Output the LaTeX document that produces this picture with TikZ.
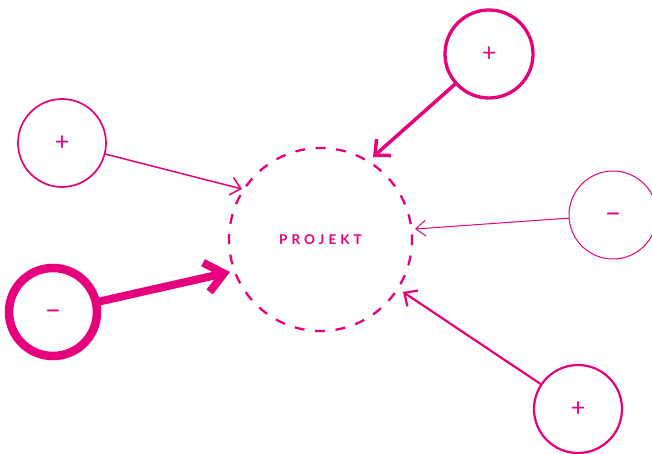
\documentclass[tikz,border=0pt]{standalone}
\usepackage{fontspec}
\setmainfont{Lato}
\newfontfamily\projfont[LetterSpace=30]{Lato Bold}
\usetikzlibrary{arrows.meta}
\definecolor{pk}{RGB}{230,0,126}
\begin{document}
\begin{tikzpicture}[x=1pt,y=-1pt,
  src/.style={circle, draw=pk, inner sep=0pt, outer sep=0pt, minimum size=88pt,
    text=pk, font=\fontsize{25}{25}\selectfont},
  minus/.style={font=\fontsize{29}{29}\selectfont},
  arr/.style={draw=pk, line cap=butt}]
\useasboundingbox (0,0) rectangle (652,454);
\node[circle, draw=pk, line width=2.3pt, dash pattern=on 10pt off 10.51pt, dash phase=5pt,
  inner sep=0pt, outer sep=0pt, minimum size=183pt, text=pk,
  font=\projfont\fontsize{13.5}{13.5}\selectfont] (P) at (320.5,239.5) {PROJEKT};
\node[src, line width=1.7pt] (tl) at (62,143) {+};
\node[src, line width=3.3pt] (tr) at (489,54) {+};
\node[src, minus, line width=1.0pt] (r) at (613,215) {\raisebox{-7.5pt}[0pt][0pt]{–}};
\node[src, line width=2.2pt] (br) at (578,409) {+};
\node[src, minus, line width=8.5pt] (lb) at (53,312) {\raisebox{-7.5pt}[0pt][0pt]{–}};
\coordinate (t1) at (242,189);
\coordinate (t2) at (373,157);
\coordinate (t3) at (415,229);
\coordinate (t4) at (403,292);
\coordinate (t5) at (230,272);
\draw[arr, line width=1.5pt, -{Straight Barb[sharp, length=10pt, width=18pt]}] (tl) -- (t1);
\draw[arr, line width=3.5pt, -{Straight Barb[sharp, length=12pt, width=22pt]}] (tr) -- (t2);
\draw[arr, line width=1.0pt, -{Straight Barb[sharp, length=10pt, width=16pt]}] (r) -- (t3);
\draw[arr, line width=2.2pt, -{Straight Barb[sharp, length=10pt, width=19pt]}] (br) -- (t4);
\draw[arr, line width=8pt, -{Straight Barb[sharp, length=18pt, width=30pt]}] (lb) -- (t5);
\end{tikzpicture}
\end{document}
